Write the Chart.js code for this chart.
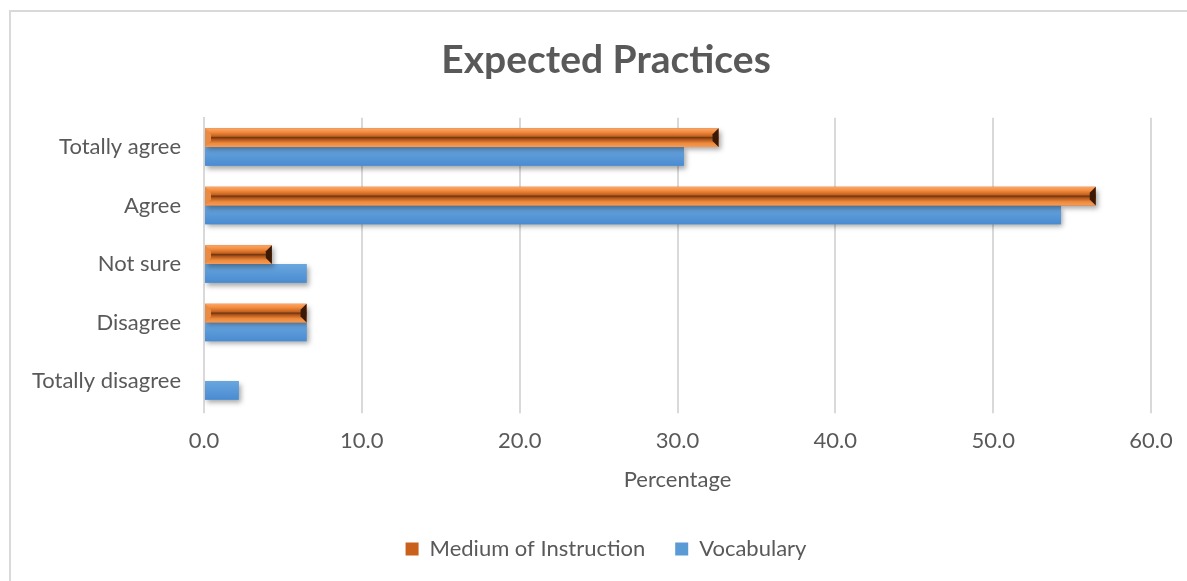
<!DOCTYPE html>
<html lang="en">
<head>
    <meta charset="UTF-8">
    <script src="https://cdn.jsdelivr.net/npm/chart.js"></script>
    <title>Expected Practices</title>
    <style>
        html, body { margin: 0; background: #fff; overflow: hidden; }
        .frame {
            position: absolute; left: 9px; top: 10px;
            width: 1200px; height: 600px;
            border: 2px solid #d9d9d9;
        }
        .wrap { position: absolute; left: 0; top: 0; width: 1212px; height: 581px; }
    </style>
</head>
<body>
    <div class="frame"></div>
    <div class="wrap">
        <canvas id="myChart"></canvas>
    </div>

<script type="text/javascript">
    const categorias = ["Totally agree", "Agree", "Not sure", "Disagree", "Totally disagree"]
    const medium = [32.6, 56.5, 4.3, 6.5, 0]
    const vocabulary = [30.4, 54.3, 6.5, 6.5, 2.2]
    const ticksX = [0, 10, 20, 30, 40, 50, 60]

    const cinza = '#595959'
    const fonte = 'Lato'

    // sombra + brilho das barras (parecido com o estilo do Excel)
    const efeitoBarras = {
        id: 'efeitoBarras',
        beforeDatasetDraw(chart, args) {
            const ctx = chart.ctx
            ctx.save()
            ctx.shadowColor = 'rgba(0,0,0,0.35)'
            ctx.shadowBlur = 5
            ctx.shadowOffsetX = 2
            ctx.shadowOffsetY = 3
        },
        afterDatasetDraw(chart, args) {
            const ctx = chart.ctx
            ctx.restore()
            const meta = chart.getDatasetMeta(args.index)
            meta.data.forEach(function (bar) {
                const p = bar.getProps(['x', 'y', 'base', 'height'], true)
                const esq = Math.min(p.base, p.x)
                const dir = Math.max(p.base, p.x)
                const topo = p.y - p.height / 2
                const baixo = p.y + p.height / 2
                if (dir - esq < 1) return
                ctx.save()
                if (args.index == 0) {
                    const g = ctx.createLinearGradient(0, topo, 0, baixo)
                    g.addColorStop(0, '#fba76a')
                    g.addColorStop(0.2, '#f48c3e')
                    g.addColorStop(0.42, '#c4621f')
                    g.addColorStop(0.5, '#6e3410')
                    g.addColorStop(0.58, '#a9521a')
                    g.addColorStop(0.8, '#ef8a3c')
                    g.addColorStop(1, '#f59b57')
                    ctx.fillStyle = g
                    ctx.fillRect(esq, topo, dir - esq, baixo - topo)
                    const b = Math.min(6, (dir - esq) / 3)
                    // ponta direita escura
                    ctx.fillStyle = '#3a1a06'
                    ctx.beginPath()
                    ctx.moveTo(dir - b, topo + b)
                    ctx.lineTo(dir, topo)
                    ctx.lineTo(dir, baixo)
                    ctx.lineTo(dir - b, baixo - b)
                    ctx.closePath()
                    ctx.fill()
                    // ponta esquerda
                    ctx.fillStyle = '#e98a45'
                    ctx.beginPath()
                    ctx.moveTo(esq, topo)
                    ctx.lineTo(esq + b, topo + b)
                    ctx.lineTo(esq + b, baixo - b)
                    ctx.lineTo(esq, baixo)
                    ctx.closePath()
                    ctx.fill()
                } else {
                    const g = ctx.createLinearGradient(0, topo, 0, baixo)
                    g.addColorStop(0, '#6aa7df')
                    g.addColorStop(1, '#4a8bd1')
                    ctx.fillStyle = g
                    ctx.fillRect(esq, topo, dir - esq, baixo - topo)
                }
                ctx.restore()
            })
        }
    }

    const data = {
        labels: categorias,
        datasets: [
            {
                label: 'Medium of Instruction',
                data: medium,
                backgroundColor: '#c9601c',
                borderWidth: 0,
                categoryPercentage: 0.64,
                barPercentage: 1
            },
            {
                label: 'Vocabulary',
                data: vocabulary,
                backgroundColor: '#5b9bd5',
                borderWidth: 0,
                categoryPercentage: 0.64,
                barPercentage: 1
            }
        ]
    }

    const config = {
        type: 'bar',
        data: data,
        plugins: [efeitoBarras],
        options: {
            indexAxis: 'y',
            responsive: true,
            maintainAspectRatio: false,
            animation: false,
            layout: { padding: { left: 0, right: 0, top: 0, bottom: 11 } },
            scales: {
                x: {
                    min: 0,
                    max: 60,
                    afterBuildTicks(scale) {
                        scale.ticks = ticksX.map(v => ({ value: v }))
                    },
                    afterFit(scale) {
                        scale.paddingRight = 61
                    },
                    grid: { color: '#d9d9d9', lineWidth: 2, drawTicks: true, tickLength: 3 },
                    border: { display: false },
                    ticks: {
                        color: cinza,
                        font: { family: fonte, size: 22 },
                        padding: 15,
                        callback: v => v.toFixed(1)
                    },
                    title: {
                        display: true,
                        text: 'Percentage',
                        color: cinza,
                        font: { family: fonte, size: 22 },
                        padding: { top: -3, bottom: 15 }
                    }
                },
                y: {
                    grid: { display: false },
                    border: { display: true, color: '#d9d9d9', width: 2 },
                    ticks: {
                        color: cinza,
                        font: { family: fonte, size: 22 },
                        padding: 15
                    },
                    afterFit(scale) {
                        scale.width = 204
                    }
                }
            },
            plugins: {
                title: {
                    display: true,
                    text: 'Expected Practices',
                    color: cinza,
                    font: { family: fonte, size: 39, weight: 'bold' },
                    padding: { top: 37, bottom: 34 }
                },
                legend: {
                    position: 'bottom',
                    labels: {
                        color: cinza,
                        font: { family: fonte, size: 22 },
                        boxWidth: 13,
                        boxHeight: 13,
                        padding: 30
                    }
                },
                tooltip: { enabled: false }
            }
        }
    }

    const myChart = new Chart(document.getElementById('myChart'), config)
</script>
</body>
</html>
